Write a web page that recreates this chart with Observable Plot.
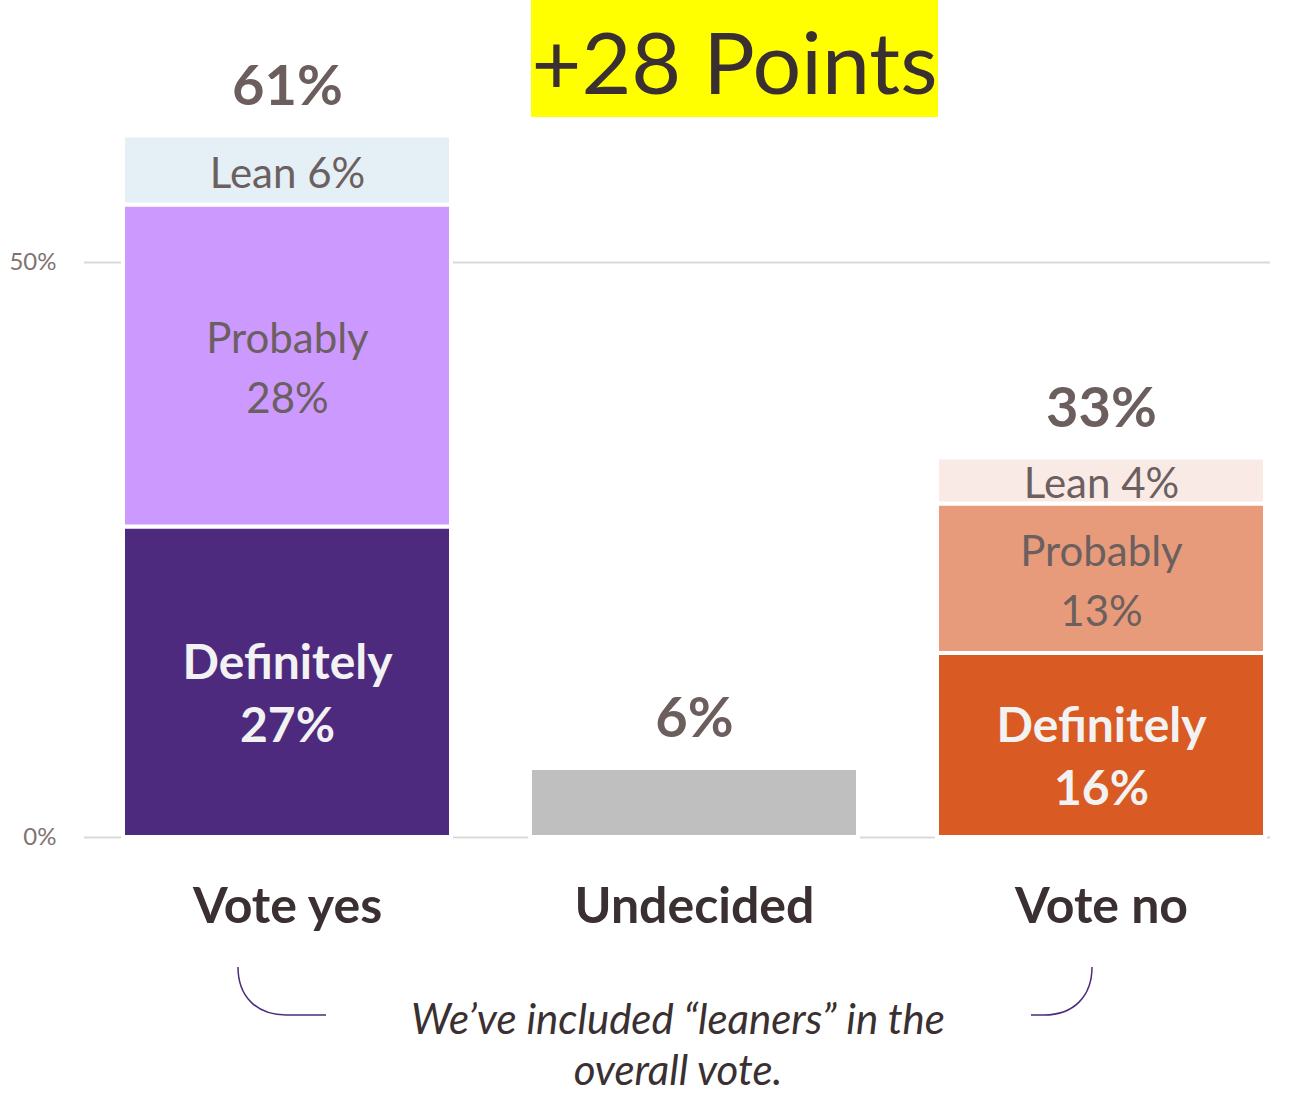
<!DOCTYPE html>
<html>
<head>
<meta charset="utf-8">
<script src="https://cdn.jsdelivr.net/npm/d3@7"></script>
<script src="https://cdn.jsdelivr.net/npm/@observablehq/plot@0.6"></script>
<style>
  html, body { margin: 0; padding: 0; background: #ffffff; }
  #wrap { position: relative; width: 1299px; height: 1095px; font-family: Lato, "Open Sans", sans-serif; }
  #title { position: absolute; left: 531px; top: 0px; width: 407px; height: 117px; background: #ffff00;
           color: #3a3032; font-size: 86px; line-height: 122px; text-align: center; white-space: nowrap; }
  #caption { position: absolute; left: 328px; top: 993px; width: 700px; text-align: center; font-style: italic;
             font-size: 42px; line-height: 51px; color: #3a3032; }
  #brackets { position: absolute; left: 0; top: 0; pointer-events: none; }
  #chart svg { font-family: Lato, "Open Sans", sans-serif; }
</style>
</head>
<body>
<div id="wrap">
  <div id="chart"></div>
  <div id="title">+28 Points</div>
  <svg id="brackets" width="1299" height="1095">
    <path d="M238,967 C238,996 256,1015 286,1015 L326,1015" fill="none" stroke="#4e2a7e" stroke-width="1.5"/>
    <path d="M1092,967 C1092,996 1074,1015 1044,1015 L1031,1015" fill="none" stroke="#4e2a7e" stroke-width="1.5"/>
  </svg>
  <div id="caption">We’ve included “leaners” in the<br>overall vote.</div>
</div>
<script>
// ---- data ----
const categories = ["Vote yes", "Undecided", "Vote no"];
const segmentNames = ["Definitely", "Probably", "Lean"];
const yesValues = [27, 28, 6];
const noValues = [16, 13, 4];
const undecidedValues = [6];
const totals = [61, 6, 33];
const yTicks = [0, 50];

const yesColors = ["#4e2a7e", "#cc99ff", "#e4f0f5"];
const noColors = ["#d95a22", "#e89b7a", "#faeae6"];
const undecidedColor = "#bfbfbf";

// ---- table ----
const rows = [];
segmentNames.forEach((s, i) => rows.push({cat: "Vote yes", seg: s, key: "yes-" + s, value: yesValues[i]}));
rows.push({cat: "Undecided", seg: "Undecided", key: "undecided", value: undecidedValues[0]});
segmentNames.forEach((s, i) => rows.push({cat: "Vote no", seg: s, key: "no-" + s, value: noValues[i]}));

const colorDomain = [...segmentNames.map(s => "yes-" + s), "undecided", ...segmentNames.map(s => "no-" + s)];
const colorRange = [...yesColors, undecidedColor, ...noColors];

const labelOf = d => d.seg === "Lean" ? `Lean ${d.value}%` : `${d.seg}\n${d.value}%`;
const totalRows = categories.map((c, i) => ({cat: c, total: totals[i]}));

const chart = Plot.plot({
  width: 1299,
  height: 1095,
  marginLeft: 84,
  marginRight: 29,
  marginTop: 0,
  marginBottom: 258,
  x: {domain: categories, range: [83.3, 1304.3], paddingInner: 0.2, paddingOuter: 0.1},
  y: {domain: [0, 50], range: [837, 262]},
  color: {domain: colorDomain, range: colorRange},
  marks: [
    Plot.ruleY(yTicks, {stroke: "#d9d9d9", strokeWidth: 2}),
    Plot.barY(rows, Plot.stackY({order: null, x: "cat", y: "value", fill: "key", stroke: "white", strokeWidth: 4,
      insetLeft: -1, insetRight: -1})),
    Plot.text(rows, Plot.stackY({order: null, x: "cat", y: "value",
      text: d => d.seg === "Definitely" ? labelOf(d) : null,
      fill: "#f2f2f2", fontWeight: "bold", fontSize: 48, lineHeight: 1.32, dy: 8})),
    Plot.text(rows, Plot.stackY({order: null, x: "cat", y: "value",
      text: d => (d.seg === "Probably" || d.seg === "Lean") ? labelOf(d) : null,
      fill: "#6b605f", fontSize: 42, lineHeight: 1.42, dy: -2})),
    Plot.text(totalRows, {x: "cat", y: "total", text: d => `${d.total}%`, fill: "#6b5e5c",
      fontWeight: "bold", fontSize: 56, dy: -49}),
    Plot.axisY({ticks: yTicks, tickFormat: d => `${d}%`, tickSize: 0, tickPadding: 28, fontSize: 24,
      color: "#7f7372"}),
    Plot.axisX({tickSize: 0, tickPadding: 50, fontSize: 50, fontWeight: "bold", color: "#3a3032", label: null})
  ]
});
document.getElementById("chart").appendChild(chart);
</script>
</body>
</html>
